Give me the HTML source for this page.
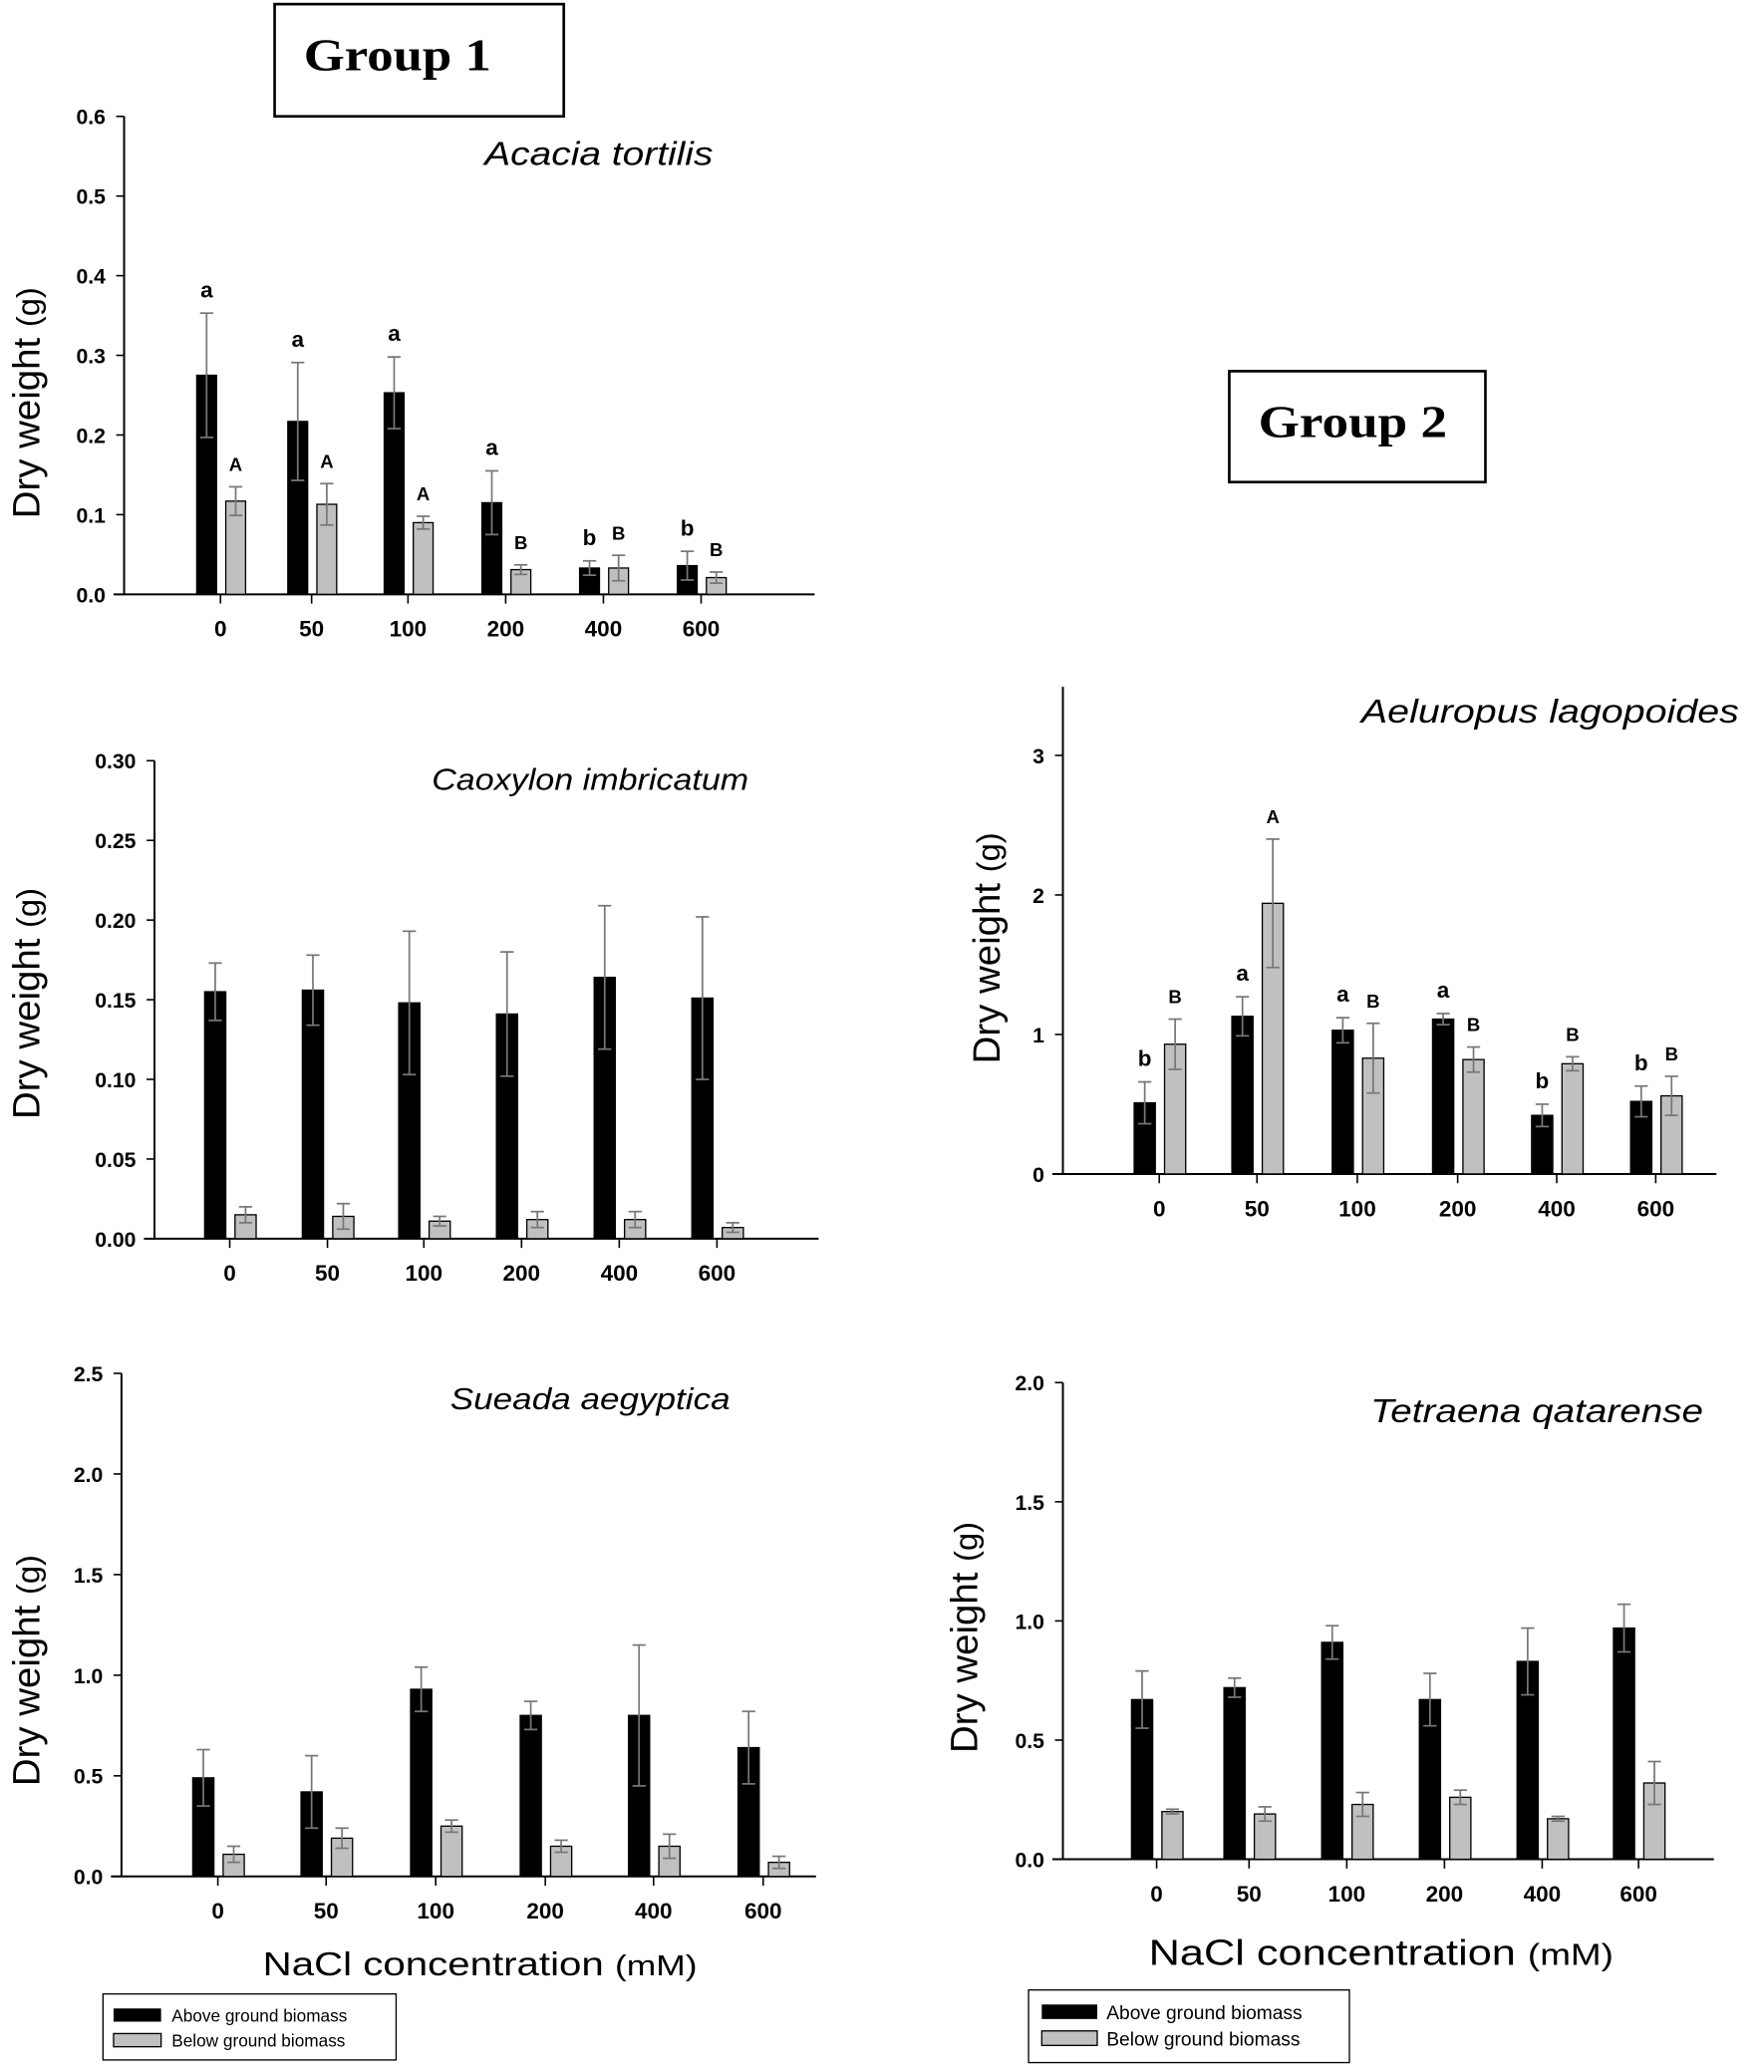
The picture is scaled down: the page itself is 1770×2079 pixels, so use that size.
<!DOCTYPE html>
<html><head><meta charset="utf-8"><style>
html,body{margin:0;padding:0;background:#fff}
svg{display:block}
text{font-family:"Liberation Sans",Arial,sans-serif}
</style></head><body>
<svg id="s" width="1770" height="2079" viewBox="0 0 1336 1569" xmlns="http://www.w3.org/2000/svg">
<rect width="1336" height="1569" fill="#fff"/>
<rect x="208" y="3" width="219" height="85" fill="none" stroke="#000" stroke-width="2"/>
<text x="230" y="53" font-weight="bold" font-size="34" textLength="142" lengthAdjust="spacingAndGlyphs" style="font-family:'Liberation Serif',serif">Group  1</text>
<rect x="931" y="281" width="194" height="84" fill="none" stroke="#000" stroke-width="2"/>
<text x="953" y="331" font-weight="bold" font-size="34" textLength="143" lengthAdjust="spacingAndGlyphs" style="font-family:'Liberation Serif',serif">Group  2</text>
<g id="g"></g>
<text x="199" y="1496" font-size="25" textLength="329" lengthAdjust="spacingAndGlyphs">NaCl concentration   <tspan font-size="22">(mM)</tspan></text>
<text x="870" y="1488" font-size="27" textLength="352" lengthAdjust="spacingAndGlyphs">NaCl concentration   <tspan font-size="23">(mM)</tspan></text>
<rect x="78" y="1510" width="222" height="50" fill="#fff" stroke="#000" stroke-width="1"/>
<rect x="86" y="1521" width="36" height="10" fill="#000"/>
<rect x="86" y="1540" width="36" height="10" fill="#c0c0c0" stroke="#000" stroke-width="1"/>
<text x="130" y="1531" font-size="13">Above ground biomass</text>
<text x="130" y="1550" font-size="13">Below ground biomass</text>
<rect x="779" y="1507" width="243" height="55" fill="#fff" stroke="#000" stroke-width="1"/>
<rect x="789" y="1518" width="42" height="11" fill="#000"/>
<rect x="789" y="1538" width="42" height="11" fill="#c0c0c0" stroke="#000" stroke-width="1"/>
<text x="838" y="1529" font-size="14.5">Above ground biomass</text>
<text x="838" y="1549" font-size="14.5">Below ground biomass</text>
</svg>
<script>
const NS="http://www.w3.org/2000/svg";const G=document.getElementById('g');
function el(t,a,txt){const e=document.createElementNS(NS,t);for(const k in a)e.setAttribute(k,a[k]);if(txt!==undefined)e.textContent=txt;G.appendChild(e);return e;}
function panel(p){
 const sy=v=>p.y0-(v/p.step)*p.pxs;
 el('line',{x1:p.ax,y1:p.ytop,x2:p.ax,y2:p.y0,stroke:'#000','stroke-width':1.5});
 el('line',{x1:p.ax-8,y1:p.y0,x2:p.xend,y2:p.y0,stroke:'#000','stroke-width':1.5});
 for(let i=0;i<p.ticks.length;i++){const y=p.y0-i*p.pxs;
  el('line',{x1:p.ax-6,y1:y,x2:p.ax,y2:y,stroke:'#000','stroke-width':1.2});
  el('text',{x:p.ax-14,y:y+6,'font-size':16,'font-weight':'bold','text-anchor':'end'},p.ticks[i]);}
 const cats=['0','50','100','200','400','600'];
 p.cx.forEach((c,i)=>{
  el('line',{x1:c,y1:p.y0,x2:c,y2:p.y0+7,stroke:'#000','stroke-width':1.2});
  el('text',{x:c,y:p.y0+32,'font-size':17,'font-weight':'bold','text-anchor':'middle'},cats[i]);
  const bw=p.bw;
  [[p.b[i],p.be[i],c-3-bw,'#000',p.lb],[p.gv[i],p.ge[i],c+4,'#c0c0c0',p.lg]].forEach(([v,e,x,f,L])=>{
   el('rect',{x:x,y:sy(v),width:bw,height:p.y0-sy(v),fill:f,stroke:'#000','stroke-width':1});
   const m=x+bw/2,d=e-v,lo=Math.max(v-d,0);
   el('line',{x1:m,y1:sy(e),x2:m,y2:sy(lo),stroke:'#777','stroke-width':1.3});
   el('line',{x1:m-5,y1:sy(e),x2:m+5,y2:sy(e),stroke:'#777','stroke-width':1.3});
   el('line',{x1:m-5,y1:sy(lo),x2:m+5,y2:sy(lo),stroke:'#777','stroke-width':1.3});
   if(L)el('text',{x:m,y:sy(e)-L.off,'font-size':f=='#000'?17:14,'font-weight':'bold','text-anchor':'middle'},L.t[i]);
  });
 });
 el('text',{x:p.tx0,y:p.ty,'font-size':p.tfs,'font-style':'italic',textLength:p.tx-p.tx0,lengthAdjust:'spacingAndGlyphs'},p.title);
 const t=el('text',{x:0,y:0,'font-size':p.lfs,'text-anchor':'middle',transform:`translate(${p.lx},${p.ly}) rotate(-90)`},'Dry weight   ');
 const ts=document.createElementNS(NS,'tspan');ts.setAttribute('font-size',p.lfs*0.85);ts.textContent=' (g)';t.appendChild(ts);
}
panel({ax:94,y0:450,ytop:88,step:0.1,pxs:60.33,xend:617,ticks:['0.0','0.1','0.2','0.3','0.4','0.5','0.6'],cx:[167,236,309,383,457,531],bw:15,
 b:[.275,.217,.253,.115,.033,.036],be:[.353,.291,.298,.155,.042,.054],gv:[.117,.113,.09,.031,.033,.021],ge:[.135,.139,.098,.037,.049,.028],
 lb:{t:['a','a','a','a','b','b'],off:12},lg:{t:['A','A','A','B','B','B'],off:12},
 title:'Acacia tortilis',tx0:367,tx:540,ty:125,tfs:25,lx:30,ly:305,lfs:29});
panel({ax:117,y0:938,ytop:576,step:0.05,pxs:60.33,xend:620,ticks:['0.00','0.05','0.10','0.15','0.20','0.25','0.30'],cx:[174,248,321,395,469,543],bw:16,
 b:[.155,.156,.148,.141,.164,.151],be:[.173,.178,.193,.18,.209,.202],gv:[.015,.014,.011,.012,.012,.007],ge:[.02,.022,.014,.017,.017,.01],
 title:'Caoxylon imbricatum',tx0:327,tx:567,ty:598,tfs:23,lx:30,ly:760,lfs:29});
panel({ax:92,y0:1421,ytop:1040,step:0.5,pxs:76.2,xend:618,ticks:['0.0','0.5','1.0','1.5','2.0','2.5'],cx:[165,247,330,413,495,578],bw:16,
 b:[.49,.42,.93,.80,.80,.64],be:[.63,.60,1.04,.87,1.15,.82],gv:[.11,.19,.25,.15,.15,.07],ge:[.15,.24,.28,.18,.21,.10],
 title:'Sueada aegyptica',tx0:341,tx:553,ty:1067,tfs:23,lx:30,ly:1265,lfs:29});
panel({ax:805,y0:889,ytop:520,step:1,pxs:105.67,xend:1300,ticks:['0','1','2','3'],cx:[878,952,1028,1104,1179,1254],bw:16,
 b:[.51,1.13,1.03,1.11,.42,.52],be:[.66,1.27,1.12,1.15,.50,.63],gv:[.93,1.94,.83,.82,.79,.56],ge:[1.11,2.40,1.08,.91,.84,.70],
 lb:{t:['b','a','a','a','b','b'],off:12},lg:{t:['B','A','B','B','B','B'],off:12},
 title:'Aeluropus lagopoides',tx0:1031,tx:1317,ty:547,tfs:25,lx:757,ly:718,lfs:29});
panel({ax:805,y0:1408,ytop:1047,step:0.5,pxs:90.25,xend:1298,ticks:['0.0','0.5','1.0','1.5','2.0'],cx:[876,946,1020,1094,1168,1241],bw:16,
 b:[.67,.72,.91,.67,.83,.97],be:[.79,.76,.98,.78,.97,1.07],gv:[.20,.19,.23,.26,.17,.32],ge:[.21,.22,.28,.29,.18,.41],
 title:'Tetraena qatarense',tx0:1038,tx:1290,ty:1077,tfs:25,lx:740,ly:1240,lfs:29});
</script>
</body></html>
